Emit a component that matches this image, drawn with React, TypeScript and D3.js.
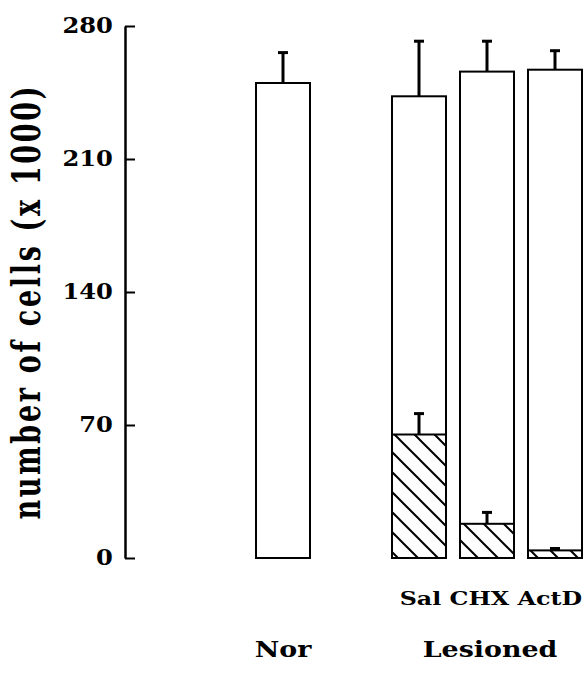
import { useEffect, useRef } from "react"
import * as d3 from "d3"

// values (cells x 1000)
const groupNames = ["Nor", "Lesioned"]
const treatments = ["Sal", "CHX", "ActD"]
const barKeys = ["Nor", "Sal", "CHX", "ActD"]
const totalMeans = [250, 243, 256, 257]
const totalErrors = [16, 29, 16, 10]
const hatchMeans = [0, 65, 18, 4]
const hatchErrors = [0, 11, 6, 1]
const yTicks = [0, 70, 140, 210, 280]

const W = 588
const H = 677
const FONT = "'DejaVu Serif', serif"

export default function App() {
  const axisRef = useRef<SVGGElement>(null)

  const y = d3.scaleLinear().domain([0, 280]).range([558, 26])
  // an empty slot between the normal bar and the lesioned group
  const x = d3
    .scaleBand()
    .domain([barKeys[0], "", ...treatments])
    .range([256, 582])
    .paddingInner(14 / 68)
    .paddingOuter(0)
  const bw = x.bandwidth()

  useEffect(() => {
    if (!axisRef.current) return
    const g = d3.select(axisRef.current)
    g.selectAll("*").remove()
    g.call(
      d3
        .axisLeft(y)
        .tickValues(yTicks)
        .tickSizeInner(-10)
        .tickSizeOuter(0)
        .tickPadding(11)
        .tickFormat(d3.format("d")),
    )
    g.select(".domain").attr("stroke-width", 2.5).attr("stroke", "#000")
    g.selectAll(".tick line").attr("stroke-width", 2).attr("stroke", "#000")
    g.selectAll(".tick text")
      .attr("font-family", FONT)
      .attr("font-weight", "bold")
      .attr("font-size", 22)
      .attr("fill", "#000")
      .attr("dy", "0.28em")
      .attr("transform", "scale(1.1,1)")
  }, [])

  const lesionedCenter = ((x("Sal") ?? 0) + (x("ActD") ?? 0) + bw) / 2 + 3
  const norCenter = (x("Nor") ?? 0) + bw / 2

  const errorBar = (cx: number, v: number, e: number, key: string) => (
    <g key={key} stroke="#000" strokeWidth={3}>
      <line x1={cx} x2={cx} y1={y(v)} y2={y(v + e)} />
      <line x1={cx - 5} x2={cx + 5} y1={y(v + e)} y2={y(v + e)} />
    </g>
  )

  return (
    <div style={{ position: "absolute", left: 0, top: 0 }}>
      <svg width={W} height={H} style={{ display: "block", background: "#fff" }}>
        <defs>
          <pattern id="hatch" patternUnits="userSpaceOnUse" width={20} height={20}>
            <path d="M-5,-5 L25,25 M-5,15 L5,25 M15,-5 L25,5" stroke="#000" strokeWidth={2} />
          </pattern>
        </defs>

        {barKeys.map((k, i) => {
          const x0 = x(k) ?? 0
          const cx = x0 + bw / 2
          return (
            <g key={k}>
              {errorBar(cx, totalMeans[i], totalErrors[i], "te")}
              <rect
                x={x0}
                y={y(totalMeans[i])}
                width={bw}
                height={y(0) - y(totalMeans[i])}
                fill="#fff"
                stroke="#000"
                strokeWidth={2}
              />
              {hatchMeans[i] > 0 && (
                <>
                  <rect
                    x={x0}
                    y={y(hatchMeans[i])}
                    width={bw}
                    height={y(0) - y(hatchMeans[i])}
                    fill="url(#hatch)"
                    stroke="#000"
                    strokeWidth={2}
                  />
                  {errorBar(cx, hatchMeans[i], hatchErrors[i], "he")}
                </>
              )}
            </g>
          )
        })}

        <g ref={axisRef} transform={`translate(125,0)`} />

        <text
          transform={`translate(40,303) scale(1.45,1) rotate(-90)`}
          textAnchor="middle"
          fontFamily={FONT}
          fontWeight="bold"
          fontSize={27}
          textLength={433}
          lengthAdjust="spacing"
        >
          number of cells (x 1000)
        </text>

        <text
          transform={`translate(${(x("ActD") ?? 0) + bw},605) scale(1.25,1)`}
          textAnchor="end"
          fontFamily={FONT}
          fontWeight="bold"
          fontSize={19}
        >
          {treatments.join(" ")}
        </text>

        {groupNames.map((g, i) => (
          <text
            key={g}
            transform={`translate(${i === 0 ? norCenter : lesionedCenter},657) scale(1.25,1)`}
            textAnchor="middle"
            fontFamily={FONT}
            fontWeight="bold"
            fontSize={21.5}
          >
            {g}
          </text>
        ))}
      </svg>
    </div>
  )
}
